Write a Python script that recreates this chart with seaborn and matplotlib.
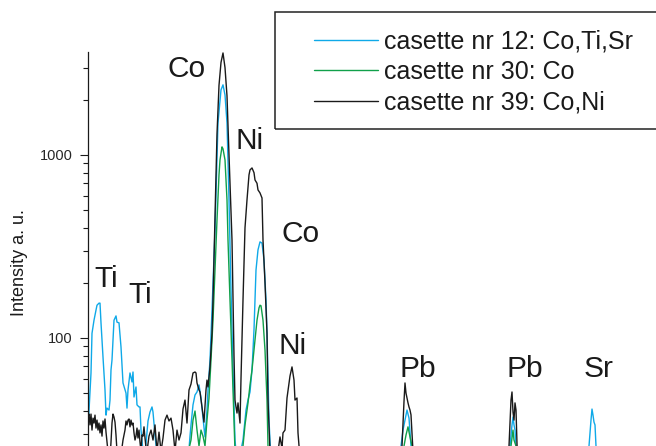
import numpy as np
import pandas as pd
import matplotlib
matplotlib.use("Agg")
import matplotlib.pyplot as plt
from matplotlib.patches import Rectangle
from matplotlib.ticker import LogLocator, NullFormatter, FixedLocator, FixedFormatter
import seaborn as sns

# ---------------- data (detector channel, counts) ----------------
ch_12 = [88, 89, 91, 92, 94, 96, 97, 99, 100, 101, 103, 105, 106, 107, 109, 110, 111, 112, 114, 116,
         117, 119, 121, 123, 126, 127, 128, 130, 132, 133, 134, 136, 137, 139, 140, 141, 143, 145,
         148, 150, 152, 153, 155, 157, 160, 170, 180, 188, 190, 191, 193, 195, 197, 199, 201, 203,
         205, 207, 208, 210, 212, 215, 218, 221, 223, 225, 227, 229, 231, 233, 235, 237, 240, 243,
         246, 248, 250, 252, 254, 256, 258, 260, 262, 264, 266, 267, 269, 271, 280, 300, 330, 370,
         398, 401, 403, 405, 407, 409, 411, 413, 440, 480, 508, 510, 512, 513, 514, 515, 516, 518,
         550, 587, 589, 591, 592, 593, 594, 595, 596, 598, 630, 660]
cnt_12 = [31.4, 40, 64.4, 106, 125, 142, 151, 155, 155, 121, 78.7, 52.0, 37.9, 41.4, 40.4, 45.8, 66.9, 75.8, 125, 132,
          122, 121, 89.3, 56.8, 50.0, 41.4, 52.0, 64.4, 57.5, 65.2, 47.6, 54.0, 43.1, 42.0, 42.0, 31.4, 24, 23,
          35.2, 39.4, 42.0, 39.4, 29.5, 23, 20, 18, 19, 21, 29.1, 33.5, 43.1, 48.8, 50.7, 55.4, 47.0, 36.5,
          28.8, 40.4, 52.0, 75.8, 142, 389, 1496, 2266, 2415, 2128, 1496, 568, 183, 66.9, 27.7, 21, 23, 27.7,
          40.4, 45.8, 50.7, 66.9, 111, 235, 303, 335, 330, 267, 161, 106.5, 35.6, 21, 18, 17, 16, 17,
          19, 25.7, 31.4, 35.6, 40.4, 36.5, 25.7, 20, 17, 16, 19, 25.7, 33.5, 37.0, 33.5, 31.4, 25.7, 20,
          17, 20, 25.7, 35.6, 40.9, 37.9, 34.7, 33.5, 25.7, 20, 17, 17]

ch_30 = [88, 120, 150, 185, 191, 193, 195, 197, 199, 201, 203, 205, 207, 209, 211, 213, 215, 217, 219, 220,
         222, 223, 225, 227, 228, 230, 231, 233, 235, 238, 243, 245, 248, 250, 252, 255, 257, 259, 260,
         261, 263, 265, 267, 268, 270, 300, 400, 404, 406, 408, 410, 412, 414, 470, 509, 511, 513, 514,
         516, 518, 660]
cnt_30 = [20, 18, 17, 20, 27.7, 35.6, 39.9, 31.4, 25.7, 31.4, 29.1, 25.7, 35.6, 47.0, 75.8, 125, 235, 441, 778, 939,
          1107, 1079, 939, 568, 343, 161, 111, 52, 24, 20, 25.7, 33.5, 44.2, 55.4, 66.9, 97.5, 125, 146, 151,
          150, 125, 86, 45.8, 25.7, 20, 16, 18, 25.7, 29.5, 32.7, 28.8, 25.7, 20, 16, 19, 25.7, 31.4, 27.7,
          25.7, 20, 17]

ch_39 = [88, 89, 90, 91, 92, 93, 94, 95, 96, 97, 98, 99, 100, 101, 102, 103, 104, 105, 106, 107,
         108, 110, 111, 112, 113, 114, 115, 116, 117, 119, 121, 123, 125, 126, 127, 128, 129, 130, 131, 132,
         133, 134, 135, 136, 137, 138, 139, 140, 141, 142, 143, 144, 145, 146, 147, 149, 151, 153, 155, 157,
         159, 161, 163, 165, 167, 169, 171, 173, 175, 177, 179, 181, 183, 185, 187, 189, 191, 193, 195, 196,
         197, 199, 200, 202, 204, 206, 207, 208, 210, 212, 213, 215, 217, 219, 221, 223, 225, 227, 229, 231,
         232, 233, 234, 235, 236, 237, 238, 240, 241, 243, 245, 247, 249, 250, 252, 254, 255, 257, 258, 260,
         262, 263, 265, 267, 268, 270, 272, 275, 278, 280, 282, 283, 285, 287, 289, 290, 292, 294, 295, 297,
         298, 300, 320, 360, 400, 402, 404, 405, 406, 407, 408, 409, 410, 411, 412, 413, 415, 460, 508, 509,
         511, 512, 513, 514, 515, 516, 517, 519, 560, 660]
cnt_39 = [37.0, 38.4, 33.5, 38.4, 31.4, 36.5, 34.3, 37.9, 32.2, 35.6, 31.4, 34.3, 30.3, 33.5, 29.1, 35.2, 32.2, 36.1, 30.6, 27.0,
          24, 22, 27.0, 34.3, 38.4, 37.0, 34.7, 29.5, 24, 22, 23, 27.7, 31.4, 35.2, 33.5, 35.6, 36.1, 32.7, 35.6, 33.5,
          34.3, 30.3, 27.7, 29.1, 32.2, 28.4, 31.4, 27.0, 24, 29.5, 29.1, 32.7, 28.4, 25.2, 24, 29.1, 31.4, 27.7, 33.5, 24,
          30.6, 24, 28.4, 35.6, 37.9, 35.2, 36.5, 31.4, 24, 31.4, 27.7, 30.3, 40.9, 45.8, 34.3, 52.0, 56.0, 64.4, 65.2, 64.4,
          56.8, 52.0, 50.7, 42.0, 34.7, 52.0, 58.9, 54.0, 69.5, 106, 161, 450, 1300, 2400, 3200, 3606, 3000, 2100, 1000, 500,
          343, 161, 80, 45.8, 42.0, 38.9, 44.2, 34.3, 60, 161, 400, 568, 778, 828, 849, 800, 730, 700, 644, 620,
          582, 343, 200, 106, 45.8, 24, 20, 21, 24, 28.8, 25, 30.3, 31.4, 47.0, 56.8, 62, 69.5, 58.9, 45.8, 47.0,
          30.3, 22, 18, 17, 20, 25.7, 45, 56.8, 50, 47, 44.2, 42, 40.4, 38, 30, 24, 20, 16, 20, 25.7,
          45.8, 50.7, 39.4, 35.6, 44.2, 40.4, 25.7, 20, 17, 17]

labels = ["casette nr 12: Co,Ti,Sr", "casette nr 30: Co", "casette nr 39: Co,Ni"]
colors = ["#0fa9e8", "#10a04a", "#1a1a1a"]

peak_names = ["Co", "Ni", "Co", "Ti", "Ti", "Ni", "Pb", "Pb", "Sr"]
peak_ch = [187, 249.5, 301, 106.5, 140, 293, 418, 524.5, 598.5]
peak_cnt = [2667, 1079, 335, 190, 155, 81.8, 61.2, 61.2, 61.2]

# ---------------- build table ----------------
df = pd.concat([
    pd.DataFrame({"channel": ch_12, "counts": cnt_12, "cassette": labels[0]}),
    pd.DataFrame({"channel": ch_30, "counts": cnt_30, "cassette": labels[1]}),
    pd.DataFrame({"channel": ch_39, "counts": cnt_39, "cassette": labels[2]}),
], ignore_index=True)

sns.set_style("white")
plt.rcParams["font.family"] = ["Liberation Sans", "DejaVu Sans"]

W, H = 656, 446
fig = plt.figure(figsize=(W / 100, H / 100), dpi=100)
ax = fig.add_axes([88 / W, 0, 568 / W, 394 / H])

sns.lineplot(data=df, x="channel", y="counts", hue="cassette", hue_order=labels,
             palette=dict(zip(labels, colors)), estimator=None, sort=False,
             linewidth=1.0, ax=ax)

ax.set_yscale("log")
ax.set_xlim(88, 656)
ax.set_ylim(25.7, 3650)

for s in ["top", "right", "bottom"]:
    ax.spines[s].set_visible(False)
ax.spines["left"].set_color("#1a1a1a")
ax.spines["left"].set_linewidth(0.9)
ax.set_xticks([])
ax.set_xlabel("")
ax.set_ylabel("")
ax.yaxis.set_major_locator(FixedLocator([100, 1000]))
ax.yaxis.set_major_formatter(FixedFormatter(["100", "1000"]))
ax.yaxis.set_minor_locator(LogLocator(base=10, subs=np.arange(2, 10)))
ax.yaxis.set_minor_formatter(NullFormatter())
ax.tick_params(axis="y", which="major", direction="out", length=6, width=0.8,
               color="#1a1a1a", labelsize=10.5, pad=5, left=True)
ax.tick_params(axis="y", which="minor", direction="out", length=3.5, width=0.8,
               color="#1a1a1a", left=True)

fig.text(20 / W, 1 - 263 / H, "Intensity a. u.", rotation=90, ha="center", va="center",
         fontsize=13, color="#1a1a1a")

for name, cx, cy in zip(peak_names, peak_ch, peak_cnt):
    ax.text(cx, cy, name, ha="center", va="baseline", fontsize=21.5, color="#1a1a1a")

# legend
handles, lbls = ax.get_legend_handles_labels()
if ax.get_legend() is not None:
    ax.get_legend().remove()
leg = ax.legend(handles, lbls, loc="upper left", bbox_to_anchor=(314 / W, 1 - 29.5 / H),
                bbox_transform=fig.transFigure, frameon=False, fontsize=18,
                handlelength=2.56, handletextpad=0.24, labelspacing=0.26,
                borderpad=0, borderaxespad=0)
for t in leg.get_texts():
    t.set_color("#1a1a1a")

fig.patches.append(Rectangle((275 / W, 1 - 129 / H), 430 / W, 117 / H, transform=fig.transFigure,
                             fill=False, edgecolor="#222222", linewidth=1.1, clip_on=False))

fig.savefig("out.png", dpi=100)
